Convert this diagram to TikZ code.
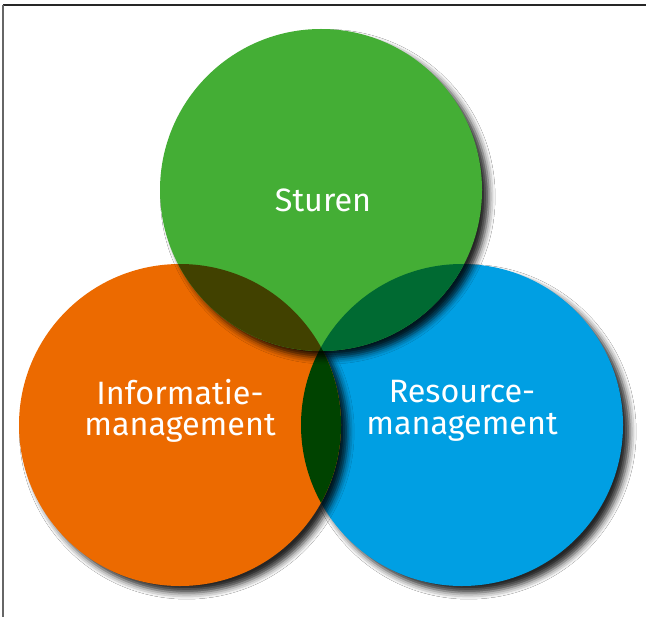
\documentclass[tikz,border=0pt]{standalone}
\usepackage{fontspec}
\setmainfont{Fira Sans}
\usepackage{tikz}
\usetikzlibrary{positioning}
\usetikzlibrary{shadows.blur}
\usepackage{xcolor}
\definecolor{sturengreen}{HTML}{44AE35}
\definecolor{infoorange}{HTML}{EC6A00}
\definecolor{resblue}{HTML}{009FE3}
\definecolor{lensgo}{HTML}{414100}
\definecolor{lensgb}{HTML}{006A32}
\definecolor{lensob}{HTML}{004300}
\definecolor{lensall}{HTML}{002C00}
\tikzset{venn circle/.style={
          circle,
          minimum size=8.05cm,
          inner sep=0pt,
          blur shadow={shadow xshift=0.17cm, shadow yshift=-0.17cm, shadow blur radius=0.16cm, shadow opacity=85}
          },
        venn label/.style={
          text=white,
          align=center,
          font=\fontsize{23}{22.5}\selectfont
          },
}

\begin{document}
\begin{tikzpicture}
      % BACKGROUND AND FRAME
      \fill[white] (0,0) rectangle (16.15,-15.425);
      \useasboundingbox (0,0) rectangle (16.15,-15.425);
      \draw[line width=0.04cm, black!85] (0.07,-0.125) -- (16.15,-0.125);
      \draw[line width=0.04cm, black!60] (0.07,-0.125) -- (0.07,-15.425);

      % THE THREE CIRCLES
      \node[venn circle, fill=resblue] (resource) at (11.55,-10.625) {};
      \node[venn circle, fill=infoorange] (info) at (4.5,-10.625) {};
      % overlap orange / blue
      \begin{scope}
        \clip (info.center) circle (4.025);
        \fill[lensob] (resource.center) circle (4.025);
      \end{scope}
      \node[venn circle, fill=sturengreen] (sturen) at (8.025,-4.75) {};
      % overlaps with green
      \begin{scope}
        \clip (sturen.center) circle (4.025);
        \fill[lensgo] (info.center) circle (4.025);
        \fill[lensgb] (resource.center) circle (4.025);
        \clip (info.center) circle (4.025);
        \fill[lensall] (resource.center) circle (4.025);
      \end{scope}

      % LABELS
      \node[venn label] (sturenlabel) at ([xshift=0.05cm, yshift=-0.25cm]sturen.center) {Sturen};
      \node[venn label] (infolabel) at ([yshift=0.35cm]info.center) {Informatie-\\management};
      \node[venn label] (resourcelabel) at ([yshift=0.35cm]resource.center) {Resource-\\management};
\end{tikzpicture}
\end{document}
